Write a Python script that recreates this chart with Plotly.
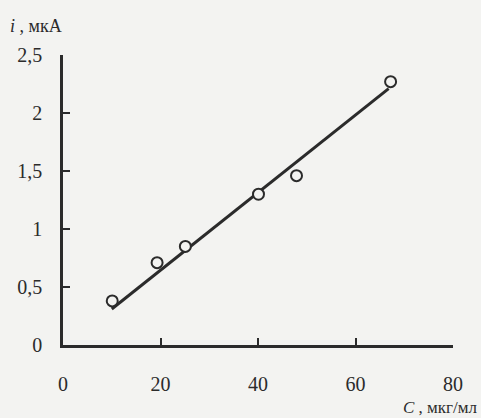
import plotly.graph_objects as go

# data
conc = [10.1, 19.3, 25.1, 40.1, 47.9, 67.2]          # C, мкг/мл
current = [0.38, 0.71, 0.85, 1.30, 1.46, 2.27]        # i, мкА
fit_c = [10.0, 66.8]
fit_i = [0.31, 2.21]
x_ticks = [0, 20, 40, 60, 80]
y_ticks = [0, 0.5, 1, 1.5, 2, 2.5]
y_tick_text = ["0", "0,5", "1", "1,5", "2", "2,5"]

bg = "#f3f3f1"
ink = "#2b2b2b"
font = "Liberation Serif"

fig = go.Figure()
fig.add_trace(go.Scatter(x=fit_c, y=fit_i, mode="lines",
                         line=dict(color=ink, width=3), showlegend=False))
fig.add_trace(go.Scatter(x=conc, y=current, mode="markers",
                         marker=dict(symbol="circle", size=11, color=bg,
                                     line=dict(color=ink, width=2)),
                         showlegend=False))

L, R, T, B = 63, 28, 55, 73
W, H = 481, 418
pw = W - L - R
ph = H - T - B

fig.update_layout(
    width=W, height=H,
    margin=dict(l=L, r=R, t=T, b=B, autoexpand=False),
    paper_bgcolor=bg, plot_bgcolor=bg,
    font=dict(family=font, size=20, color=ink),
    xaxis=dict(range=[0, 80], tickvals=x_ticks, ticks="inside", ticklen=7,
               tickwidth=2, tickcolor=ink, showline=True, linecolor=ink,
               linewidth=2.5, showgrid=False, zeroline=False,
               ticklabelstandoff=19, automargin=False),
    yaxis=dict(range=[0, 2.5], tickvals=y_ticks, ticktext=y_tick_text,
               ticks="inside", ticklen=7, tickwidth=2, tickcolor=ink,
               showline=True, linecolor=ink, linewidth=2.5, showgrid=False,
               zeroline=False, ticklabelstandoff=14, automargin=False),
    annotations=[
        dict(text="<i>i</i> , мкА", x=(8 - L) / pw, y=(H - B - 26) / ph,
             xref="paper", yref="paper", xanchor="left", yanchor="middle",
             showarrow=False, font=dict(family=font, size=18, color=ink)),
        dict(text="<i>C</i> , мкг/мл", x=(480 - L) / pw, y=(H - B - 407) / ph,
             xref="paper", yref="paper", xanchor="right", yanchor="middle",
             showarrow=False, font=dict(family=font, size=17, color=ink)),
    ],
)

fig.write_html(
    "out.html",
    config={"displayModeBar": False},
    post_script="document.body.style.margin='0';document.body.style.overflow='hidden';document.body.style.background='" + bg + "';",
)
